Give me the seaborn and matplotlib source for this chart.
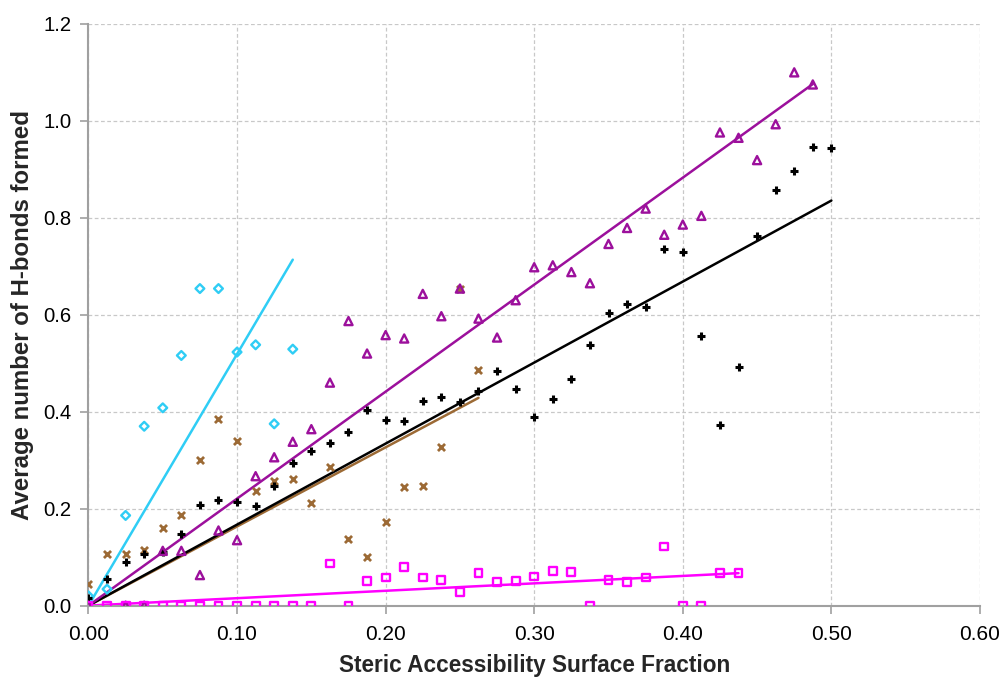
import numpy as np
import pandas as pd
import matplotlib
matplotlib.use("Agg")
import matplotlib.pyplot as plt
import seaborn as sns
from matplotlib.ticker import FormatStrFormatter

# ---------------- data ----------------
cyan_x = [0.0, 0.0125, 0.025, 0.0375, 0.05, 0.0625, 0.075, 0.0875, 0.1, 0.1125, 0.125, 0.1375]
cyan_y = [0.02, 0.034, 0.186, 0.370, 0.408, 0.516, 0.654, 0.654, 0.523, 0.538, 0.375, 0.529]

brown_x = [0.0, 0.0125, 0.025, 0.0375, 0.05, 0.0625, 0.075, 0.0875, 0.1, 0.1125, 0.125, 0.1375,
           0.15, 0.1625, 0.175, 0.1875, 0.2, 0.2125, 0.225, 0.2375, 0.25, 0.2625]
brown_y = [0.045, 0.107, 0.106, 0.115, 0.161, 0.186, 0.300, 0.384, 0.339, 0.236, 0.257, 0.262,
           0.211, 0.285, 0.137, 0.101, 0.173, 0.244, 0.247, 0.328, 0.653, 0.487]

black_x = [0.0, 0.0125, 0.025, 0.0375, 0.05, 0.0625, 0.075, 0.0875, 0.1, 0.1125, 0.125, 0.1375,
           0.15, 0.1625, 0.175, 0.1875, 0.2, 0.2125, 0.225, 0.2375, 0.25, 0.2625, 0.275, 0.2875,
           0.3, 0.3125, 0.325, 0.3375, 0.35, 0.3625, 0.375, 0.3875, 0.4, 0.4125, 0.425, 0.4375,
           0.45, 0.4625, 0.475, 0.4875, 0.5]
black_y = [0.015, 0.055, 0.091, 0.107, 0.111, 0.148, 0.208, 0.217, 0.214, 0.205, 0.246, 0.294,
           0.319, 0.335, 0.358, 0.404, 0.383, 0.381, 0.423, 0.431, 0.419, 0.443, 0.484, 0.447,
           0.390, 0.426, 0.468, 0.538, 0.604, 0.622, 0.617, 0.736, 0.730, 0.556, 0.373, 0.492,
           0.762, 0.858, 0.896, 0.945, 0.944]

purple_x = [0.0, 0.025, 0.0375, 0.05, 0.0625, 0.075, 0.0875, 0.1, 0.1125, 0.125, 0.1375,
            0.15, 0.1625, 0.175, 0.1875, 0.2, 0.2125, 0.225, 0.2375, 0.25, 0.2625, 0.275, 0.2875,
            0.3, 0.3125, 0.325, 0.3375, 0.35, 0.3625, 0.375, 0.3875, 0.4, 0.4125, 0.425, 0.4375,
            0.45, 0.4625, 0.475, 0.4875]
purple_y = [0.0, 0.0, 0.0, 0.113, 0.113, 0.063, 0.155, 0.135, 0.267, 0.306, 0.338,
            0.364, 0.460, 0.587, 0.520, 0.558, 0.551, 0.643, 0.597, 0.654, 0.592, 0.553, 0.630,
            0.698, 0.702, 0.688, 0.665, 0.746, 0.779, 0.819, 0.765, 0.786, 0.804, 0.976, 0.965,
            0.919, 0.993, 1.100, 1.075]

magenta_x = [0.0, 0.0125, 0.025, 0.0375, 0.05, 0.0625, 0.075, 0.0875, 0.1, 0.1125, 0.125, 0.1375,
             0.15, 0.1625, 0.175, 0.1875, 0.2, 0.2125, 0.225, 0.2375, 0.25, 0.2625, 0.275, 0.2875,
             0.3, 0.3125, 0.325, 0.3375, 0.35, 0.3625, 0.375, 0.3875, 0.4, 0.4125, 0.425, 0.4375]
magenta_y = [0.0, 0.0, 0.0, 0.0, 0.0, 0.0, 0.0, 0.0, 0.0, 0.0, 0.0, 0.0,
             0.0, 0.087, 0.0, 0.051, 0.058, 0.080, 0.058, 0.053, 0.028, 0.067, 0.048, 0.051,
             0.060, 0.071, 0.069, 0.0, 0.053, 0.048, 0.058, 0.122, 0.0, 0.0, 0.068, 0.068]

x_ticks = [0.0, 0.1, 0.2, 0.3, 0.4, 0.5, 0.6]
y_ticks = [0.0, 0.2, 0.4, 0.6, 0.8, 1.0, 1.2]
x_label = "Steric Accessibility Surface Fraction"
y_label = "Average number of H-bonds formed"

# ---------------- style ----------------
sns.set_theme(style="white")
plt.rcParams['font.family'] = ['Liberation Sans', 'DejaVu Sans']

fig = plt.figure(figsize=(10.02, 6.82), dpi=100)
ax = fig.add_axes([0.0883, 0.112, 0.8897, 0.853])

series = [
    (cyan_x, cyan_y, "#2FCDF5", "D", True),
    (brown_x, brown_y, "#9C6A35", "x", False),
    (black_x, black_y, "#000000", "P", False),
    (purple_x, purple_y, "#9C109C", "^", True),
    (magenta_x, magenta_y, "#FF00FF", "s", True),
]

# trendlines (least squares through origin)
for xs, ys, col, mk, hollow in series:
    xa = np.asarray(xs)
    ya = np.asarray(ys)
    slope = np.sum(xa * ya) / np.sum(xa * xa)
    line_df = pd.DataFrame({"x": [0.0, xa.max()], "y": [0.0, slope * xa.max()]})
    sns.lineplot(data=line_df, x="x", y="y", color=col, linewidth=1.8, ax=ax, zorder=2)

for xs, ys, col, mk, hollow in series:
    df = pd.DataFrame({"x": xs, "y": ys})
    if mk == "x":
        sns.scatterplot(data=df, x="x", y="y", marker="x", s=26, color=col,
                        linewidth=2.0, ax=ax, zorder=3)
    elif mk == "P":
        sns.scatterplot(data=df, x="x", y="y", marker="+", s=26, color=col,
                        linewidth=2.2, ax=ax, zorder=3)
    else:
        size = {"D": 20, "^": 34, "s": 32}[mk]
        sns.scatterplot(data=df, x="x", y="y", marker=mk, s=size, facecolor="none",
                        edgecolor=col, linewidth=1.7, ax=ax, zorder=3)

ax.set_xlim(0, 0.6)
ax.set_ylim(0, 1.2)
ax.set_xticks(x_ticks)
ax.set_yticks(y_ticks)
ax.xaxis.set_major_formatter(FormatStrFormatter("%.2f"))
ax.yaxis.set_major_formatter(FormatStrFormatter("%.1f"))
ax.grid(True, color="#C8C8C8", linestyle=(0, (3, 2)), linewidth=0.9)
ax.set_axisbelow(True)

for side in ["top", "right"]:
    ax.spines[side].set_visible(False)
for side in ["left", "bottom"]:
    ax.spines[side].set_color("#A0A0A0")
    ax.spines[side].set_linewidth(1.5)

ax.tick_params(axis="both", which="major", direction="out", length=6, width=1.2,
               color="#A0A0A0", labelcolor="black", bottom=True, left=True)
ax.tick_params(axis="x", pad=8, labelsize=15)
ax.tick_params(axis="y", pad=6, labelsize=14.6)

ax.set_xlabel(x_label, fontsize=16.3, fontweight="bold", labelpad=7)
ax.set_ylabel(y_label, fontsize=17.3, fontweight="bold", labelpad=7)

fig.savefig("out.png", dpi=100)
